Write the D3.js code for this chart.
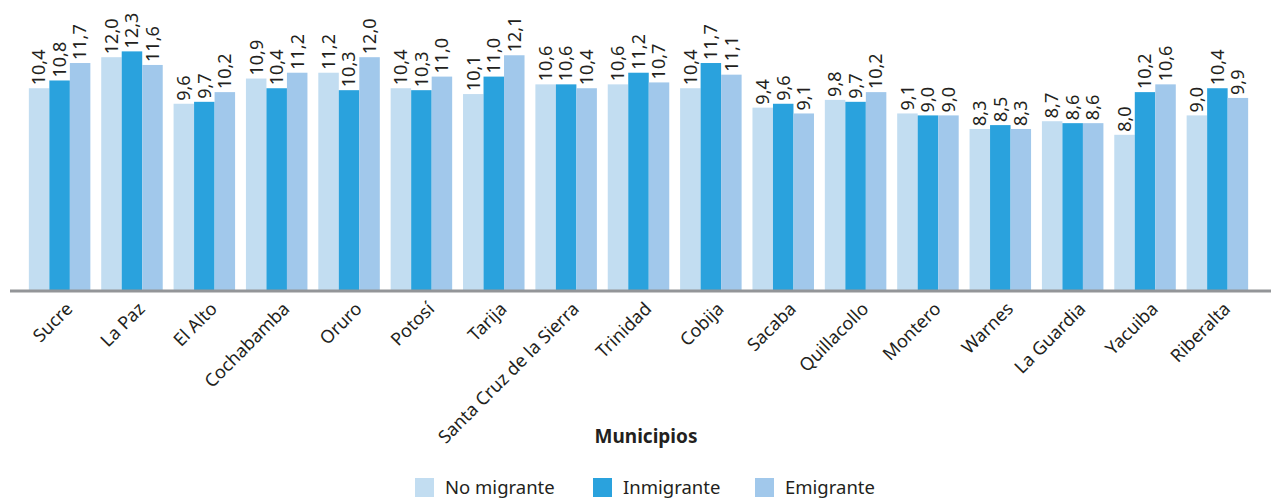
<!DOCTYPE html>
<html>
<head>
<meta charset="utf-8">
<script src="https://cdn.jsdelivr.net/npm/d3@7"></script>
<style>
  body { margin: 0; background: #fff; }
  svg { font-family: "Noto Sans", "Open Sans", sans-serif; }
</style>
</head>
<body>
<div id="chart"></div>
<script>
var municipios = ["Sucre", "La Paz", "El Alto", "Cochabamba", "Oruro", "Potosí", "Tarija",
    "Santa Cruz de la Sierra", "Trinidad", "Cobija", "Sacaba", "Quillacollo", "Montero",
    "Warnes", "La Guardia", "Yacuiba", "Riberalta"];
var seriesNames = ["No migrante", "Inmigrante", "Emigrante"];
var noMigrante = [10.4, 12.0, 9.6, 10.9, 11.2, 10.4, 10.1, 10.6, 10.6, 10.4, 9.4, 9.8, 9.1, 8.3, 8.7, 8.0, 9.0];
var inmigrante = [10.8, 12.3, 9.7, 10.4, 10.3, 10.3, 11.0, 10.6, 11.2, 11.7, 9.6, 9.7, 9.0, 8.5, 8.6, 10.2, 10.4];
var emigrante  = [11.7, 11.6, 10.2, 11.2, 12.0, 11.0, 12.1, 10.4, 10.7, 11.1, 9.1, 10.2, 9.0, 8.3, 8.6, 10.6, 9.9];

var colors = ["#c2ddf1", "#2aa2dd", "#a1c8eb"];
var width = 1271, height = 498;
var baseY = 290;

var data = municipios.map(function(m, i) {
    return {name: m, values: [noMigrante[i], inmigrante[i], emigrante[i]]};
});

var svg = d3.select("#chart").append("svg")
    .attr("width", width)
    .attr("height", height);

var x0 = d3.scaleBand()
    .domain(municipios)
    .range([18, 1259])
    .paddingInner(0.15)
    .paddingOuter(0.15);

var x1 = d3.scaleBand()
    .domain(d3.range(3))
    .range([0, x0.bandwidth()]);

var y = d3.scaleLinear()
    .domain([0, 14])
    .range([baseY, baseY - 14 * 19.4]);

var fmt = function(v) { return v.toFixed(1).replace(".", ","); };

var groups = svg.selectAll(".grupo")
    .data(data)
  .enter().append("g")
    .attr("class", "grupo")
    .attr("transform", function(d) { return "translate(" + x0(d.name) + ",0)"; });

groups.selectAll("rect")
    .data(function(d) { return d.values; })
  .enter().append("rect")
    .attr("x", function(d, i) { return x1(i); })
    .attr("width", x1.bandwidth())
    .attr("y", function(d) { return y(d); })
    .attr("height", function(d) { return baseY - y(d); })
    .attr("fill", function(d, i) { return colors[i]; });

groups.selectAll("text")
    .data(function(d) { return d.values; })
  .enter().append("text")
    .attr("transform", function(d, i) {
        return "translate(" + (x1(i) + x1.bandwidth() / 2) + "," + (y(d) - 3) + ") rotate(-90)";
    })
    .attr("dy", "0.35em")
    .style("font-size", "18px")
    .attr("fill", "#231f20")
    .text(fmt);

// baseline
svg.append("line")
    .attr("x1", 10).attr("x2", width)
    .attr("y1", baseY + 1).attr("y2", baseY + 1)
    .attr("stroke", "#939598")
    .attr("stroke-width", 3);

// x axis labels
var xAxis = d3.axisBottom(x0).tickSize(0).tickPadding(0);
var xAxisG = svg.append("g")
    .attr("transform", "translate(0," + baseY + ")")
    .call(xAxis);
xAxisG.select(".domain").remove();
xAxisG.selectAll("text")
    .attr("y", 0)
    .attr("dy", 0)
    .attr("transform", "translate(14,20) rotate(-45)")
    .style("text-anchor", "end")
    .style("font-size", "18px")
    .style("font-family", "\"Noto Sans\", sans-serif")
    .attr("fill", "#231f20");

svg.append("text")
    .attr("x", 646)
    .attr("y", 443)
    .attr("text-anchor", "middle")
    .style("font-size", "19px")
    .style("font-weight", "bold")
    .attr("fill", "#231f20")
    .text("Municipios");

// legend
var legendX = [415, 593, 755];
var legend = svg.selectAll(".legend")
    .data(seriesNames)
  .enter().append("g")
    .attr("class", "legend")
    .attr("transform", function(d, i) { return "translate(" + legendX[i] + ",478)"; });

legend.append("rect")
    .attr("width", 19)
    .attr("height", 19)
    .attr("fill", function(d, i) { return colors[i]; });

legend.append("text")
    .attr("x", 30)
    .attr("y", 16)
    .style("font-size", "18.5px")
    .attr("fill", "#231f20")
    .text(function(d) { return d; });
</script>
</body>
</html>
